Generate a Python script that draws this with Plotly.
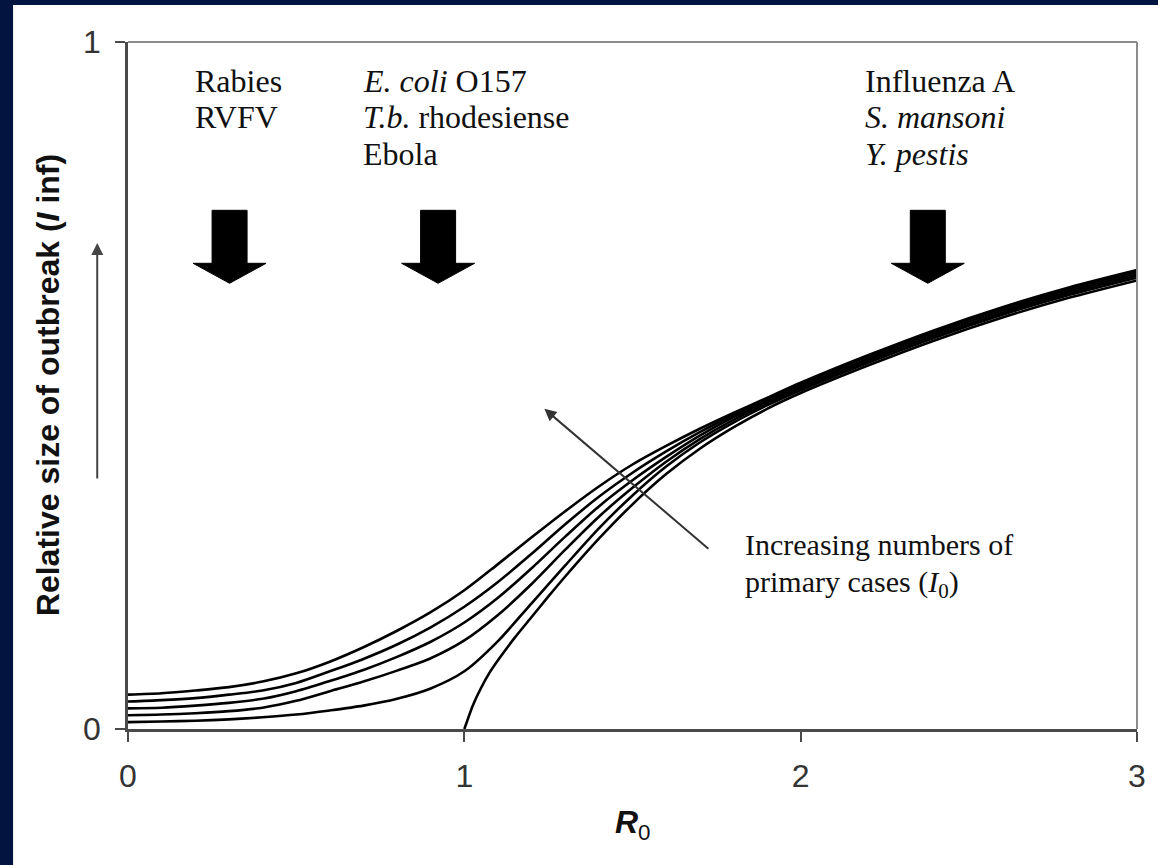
import plotly.graph_objects as go

# ---------------- data ----------------
R0_GRID = [0, 0.1, 0.2, 0.3, 0.4, 0.5, 0.6, 0.7, 0.8, 0.9, 1.0, 1.1, 1.2, 1.3, 1.4, 1.5,
           1.6, 1.7, 1.8, 1.9, 2.0, 2.2, 2.4, 2.6, 2.8, 3.0]
SIZE_I0_5 = [0.050, 0.052, 0.056, 0.061, 0.069, 0.081, 0.098, 0.119, 0.143, 0.170, 0.202,
             0.240, 0.279, 0.317, 0.353, 0.385, 0.412, 0.437, 0.460, 0.482, 0.504,
             0.544, 0.581, 0.614, 0.643, 0.668]
SIZE_I0_4 = [0.040, 0.042, 0.045, 0.050, 0.056, 0.067, 0.084, 0.102, 0.123, 0.148, 0.178,
             0.214, 0.255, 0.298, 0.338, 0.373, 0.404, 0.432, 0.457, 0.480, 0.502,
             0.542, 0.579, 0.612, 0.641, 0.666]
SIZE_I0_3 = [0.030, 0.031, 0.034, 0.038, 0.044, 0.055, 0.070, 0.086, 0.105, 0.127, 0.155,
             0.191, 0.234, 0.280, 0.324, 0.362, 0.396, 0.427, 0.454, 0.477, 0.499,
             0.539, 0.576, 0.609, 0.638, 0.663]
SIZE_I0_2 = [0.020, 0.021, 0.023, 0.026, 0.031, 0.041, 0.055, 0.069, 0.085, 0.103, 0.129,
             0.166, 0.211, 0.261, 0.309, 0.351, 0.389, 0.422, 0.450, 0.474, 0.496,
             0.536, 0.573, 0.606, 0.635, 0.660]
SIZE_I0_1 = [0.010, 0.011, 0.012, 0.014, 0.017, 0.021, 0.027, 0.034, 0.044, 0.059, 0.084,
             0.128, 0.183, 0.238, 0.292, 0.340, 0.382, 0.417, 0.446, 0.471, 0.493,
             0.533, 0.570, 0.603, 0.632, 0.657]
R0_THRESH = [1.0, 1.025, 1.05, 1.075, 1.1, 1.15, 1.2, 1.25, 1.3, 1.4, 1.5, 1.6, 1.7, 1.8,
             1.9, 2.0, 2.2, 2.4, 2.6, 2.8, 3.0]
SIZE_I0_0 = [0.0, 0.034, 0.060, 0.082, 0.100, 0.133, 0.163, 0.193, 0.222, 0.277, 0.327,
             0.371, 0.408, 0.439, 0.466, 0.489, 0.529, 0.566, 0.599, 0.628, 0.653]

X_TICKS = [0, 1, 2, 3]
Y_TICKS = [0, 1]

DISEASE_COLUMNS = [
    ["Rabies", "RVFV"],
    ["<i>E. coli</i> O157", "<i>T.b.</i> rhodesiense", "Ebola"],
    ["Influenza A", "<i>S. mansoni</i>", "<i>Y. pestis</i>"],
]
ARROW_R0 = [0.302, 0.922, 2.378]

# ---------------- figure ----------------
fig = go.Figure()
for ys in [SIZE_I0_1, SIZE_I0_2, SIZE_I0_3, SIZE_I0_4, SIZE_I0_5]:
    fig.add_trace(go.Scatter(x=R0_GRID, y=ys, mode="lines",
                             line=dict(color="black", width=2.6, shape="spline", smoothing=0.8),
                             showlegend=False, hoverinfo="skip"))
fig.add_trace(go.Scatter(x=R0_THRESH, y=SIZE_I0_0, mode="lines",
                         line=dict(color="black", width=2.6, shape="spline", smoothing=0.6),
                         showlegend=False, hoverinfo="skip"))

NAVY = "#02143f"
AXIS_DARK = "#4a4a4a"
BORDER = "#8c8c8c"
shapes = [
    # navy frame strips (left and top)
    dict(type="rect", xref="paper", yref="paper", x0=-0.2, x1=-0.1139, y0=-0.3, y1=1.2,
         fillcolor=NAVY, line=dict(width=0), layer="below"),
    dict(type="rect", xref="paper", yref="paper", x0=-0.2, x1=1.05, y0=1.0539, y1=1.2,
         fillcolor=NAVY, line=dict(width=0), layer="below"),
    # top and right border of plot box
    dict(type="line", xref="paper", yref="paper", x0=0, x1=1, y0=1, y1=1,
         line=dict(color=BORDER, width=2)),
    dict(type="line", xref="paper", yref="paper", x0=1, x1=1, y0=0, y1=1,
         line=dict(color=BORDER, width=2)),
]
# block arrows (pixel-sized, anchored at data position)
arrow_path = "M -17.5,0 L 17.5,0 L 17.5,-53 L 36.5,-53 L 0,-73 L -36.5,-53 L -17.5,-53 Z"
for r0 in ARROW_R0:
    shapes.append(dict(type="path", xref="x", yref="y", xsizemode="pixel", ysizemode="pixel",
                       xanchor=r0, yanchor=0.755, path=arrow_path,
                       fillcolor="black", line=dict(color="black", width=1)))

SERIF = "Liberation Serif, Times New Roman, serif"
SANS = "Liberation Sans, Arial, sans-serif"
annotations = []
col_left = [0.1945, 0.6925, 2.1866]
line_y = [0.943, 0.891, 0.837]
for left, lines in zip(col_left, DISEASE_COLUMNS):
    for i, txt in enumerate(lines):
        annotations.append(dict(x=left, y=line_y[i], xref="x", yref="y", text=txt,
                                showarrow=False, xanchor="left", yanchor="middle",
                                font=dict(family=SERIF, size=32, color="#111")))
# pointer arrow for increasing I0
annotations.append(dict(x=1.238, y=0.466, xref="x", yref="y", ax=1.73, ay=0.2606,
                        axref="x", ayref="y", text="", showarrow=True, arrowhead=2,
                        arrowsize=1.2, arrowwidth=2, arrowcolor="#333"))
annotations.append(dict(x=1.83, y=0.268, xref="x", yref="y", text="Increasing numbers of",
                        showarrow=False, xanchor="left", yanchor="middle",
                        font=dict(family=SERIF, size=30, color="#111")))
annotations.append(dict(x=1.83, y=0.211, xref="x", yref="y",
                        text="primary cases (<i>I</i><sub>0</sub>)",
                        showarrow=False, xanchor="left", yanchor="middle",
                        font=dict(family=SERIF, size=30, color="#111")))
# y axis title and its arrow
annotations.append(dict(x=-0.0796, y=0.5, xref="paper", yref="paper",
                        text="<b>Relative size of outbreak (<i>I</i> inf)</b>", textangle=-90,
                        showarrow=False, xanchor="center", yanchor="middle",
                        font=dict(family=SANS, size=32, color="#111")))
annotations.append(dict(x=-0.0305, y=0.7074, xref="paper", yref="paper", ax=0, ay=237,
                        text="", showarrow=True, arrowhead=2, arrowsize=1.2, arrowwidth=2,
                        arrowcolor="#444"))
# x axis title
annotations.append(dict(x=0.5, y=-0.1397, xref="paper", yref="paper",
                        text="<b><i>R</i></b><sub>0</sub>", showarrow=False,
                        xanchor="center", yanchor="middle",
                        font=dict(family=SANS, size=32, color="#111")))

fig.update_layout(
    width=1158, height=865,
    margin=dict(l=128, r=12, t=42, b=136, pad=0),
    paper_bgcolor="white", plot_bgcolor="white",
    showlegend=False,
    shapes=shapes, annotations=annotations,
    xaxis=dict(range=[0, 3], tickvals=X_TICKS, ticktext=[str(v) for v in X_TICKS],
               showgrid=False, zeroline=False, showline=True, linecolor=AXIS_DARK,
               linewidth=2.5, ticks="outside", ticklen=10, tickwidth=2, tickcolor=AXIS_DARK,
               tickfont=dict(family=SANS, size=32, color="#333"), ticklabelstandoff=7),
    yaxis=dict(range=[0, 1], tickvals=Y_TICKS, ticktext=[str(v) for v in Y_TICKS],
               showgrid=False, zeroline=False, showline=True, linecolor=AXIS_DARK,
               linewidth=2.5, ticks="outside", ticklen=10, tickwidth=2, tickcolor=AXIS_DARK,
               tickfont=dict(family=SANS, size=32, color="#333"), ticklabelstandoff=8),
)

fig.write_html("out.html")
